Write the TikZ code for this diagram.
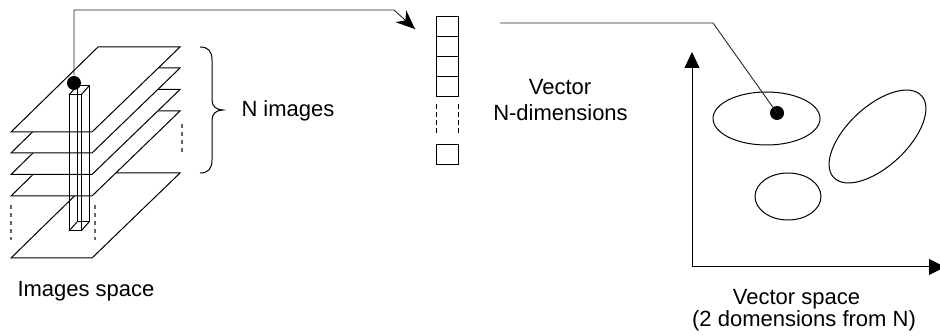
\documentclass[tikz,border=0pt]{standalone}
\usepackage{fontspec}
\setmainfont{Liberation Sans}
\usetikzlibrary{arrows.meta}
\begin{document}
\begin{tikzpicture}[x=1pt,y=-1pt, line width=1pt,
  plane/.style={draw=black, fill=white, line join=miter},
  hid/.style={draw=black!60, line width=1.2pt, dash pattern=on 4.5pt off 3.5pt},
  vdash/.style={draw=black, dash pattern=on 5pt off 3pt},
  lbl/.style={font=\fontsize{22}{26}\selectfont, inner sep=0pt, text=black},
  cell/.style={draw, minimum width=22pt, minimum height=20pt, inner sep=0pt, outer sep=0pt},
  dot/.style={circle, fill=black, minimum size=14pt, inner sep=0pt},
  conn/.style={draw=black!85, line width=0.9pt}]
\useasboundingbox (0,0) rectangle (940,336);
\clip (0,0) rectangle (940,336);
% image planes (back to front)
\foreach \yb in {258,196,174.5,153,132}{
  \filldraw[plane] (11,\yb) -- (92,\yb) -- (180,{\yb-85}) -- (98,{\yb-85}) -- cycle;
}
% hidden planes
\draw[hid] (11,205) -- (11,240);
\draw[hid] (95,205) -- (95,240);
\draw[hid] (182,124) -- (182,155);
% pixel column
\draw (69,95) rectangle (81,231);
\draw (77,86) -- (89,86) -- (89,222) -- (77,222) -- cycle;
\draw (69,95) -- (77,86) (81,95) -- (89,86) (81,231) -- (89,222) (69,231) -- (77,222);
\node[dot] (d1) at (74,83) {};
% brace
\draw (200,47) .. controls (208,47) and (212,51) .. (212,60) -- (212,100)
  .. controls (212,106) and (216,110) .. (223,110)
  .. controls (216,110) and (212,114) .. (212,120) -- (212,160)
  .. controls (212,169) and (208,173) .. (200,173);
\node[lbl, anchor=base west] (nimg) at (241,117) {N images};
% vector
\node[cell] (c1) at (447,27) {};
\node[cell] (c2) at (447,47) {};
\node[cell] (c3) at (447,67) {};
\node[cell] (c4) at (447,87) {};
\node[cell] (c5) at (447,155) {};
\draw[vdash] (436,104) -- (436,135);
\draw[vdash] (458,104) -- (458,135);
\node[lbl, anchor=base] (vec1) at (560,95) {Vector};
\node[lbl, anchor=base] (vec2) at (560.5,121) {N-dimensions};
% connector 1
\coordinate (b1) at (394,10);
\coordinate (t1) at (415,29);
\draw[conn] (d1) |- (b1) -- (t1);
\fill[black, shift={(t1)}, rotate=-42] (0,0) -- (-19,-8) -- (-13,0) -- (-19,8) -- cycle;
% vector space
\coordinate (o) at (692,267);
\coordinate (ytip) at (692,52);
\coordinate (xtip) at (945,267);
\draw[-{Triangle[length=16pt,width=15pt]}] (o) -- (ytip);
\draw[-{Triangle[length=16pt,width=16pt]}] (o) -- (xtip);
\draw (766.5,118.5) ellipse [x radius=53.5, y radius=26.5];
\draw[shift={(877.5,136.5)}, rotate=43] (0,0) ellipse [x radius=60, y radius=30];
\draw (788,196.5) ellipse [x radius=33, y radius=23.5];
\node[dot] (d2) at (777,113) {};
% connector 2
\coordinate (s2) at (500,23);
\coordinate (b2) at (713,23);
\draw[conn] (s2) -- (b2) -- (d2.center);
% labels
\node[lbl, anchor=base west] (isp) at (17,297) {Images space};
\node[lbl, anchor=base] (vsp1) at (796.5,305) {Vector space};
\node[lbl, anchor=base] (vsp2) at (804,327) {(2 domensions from N)};
\end{tikzpicture}
\end{document}
